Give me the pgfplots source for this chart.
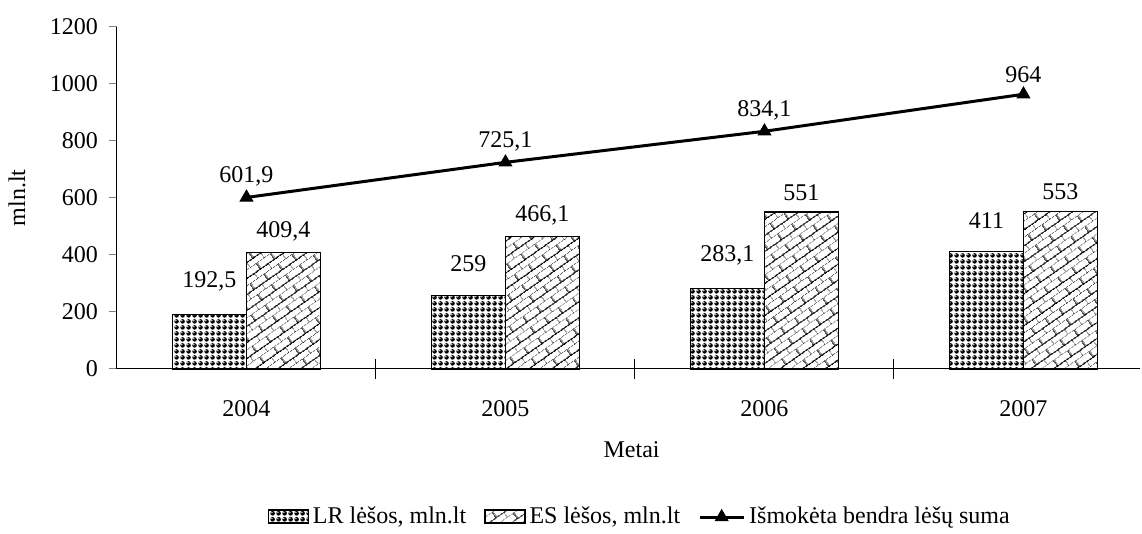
\documentclass[border=0pt]{standalone}
\usepackage{pgfplots}
\pgfplotsset{compat=1.18}
\usepackage{fontspec}
\setmainfont{Liberation Serif}
\usetikzlibrary{patterns,patterns.meta}
\tikzdeclarepattern{
  name=bricks,
  type=uncolored,
  bounding box={(0,0) and (8.5pt,6.6pt)},
  tile size={(8.5pt,6.6pt)},
  tile transformation={rotate=35},
  code={
    \draw[line width=0.6pt] (0,0)--(8.5pt,0) (0,3.3pt)--(8.5pt,3.3pt) (0,0)--(0,3.3pt) (4.25pt,3.3pt)--(4.25pt,6.6pt);
  }
}
\tikzdeclarepattern{
  name=balls,
  type=colored,
  bounding box={(0,0) and (3pt,3pt)},
  tile size={(3pt,3pt)},
  code={
    \fill[black] (1.5pt,1.5pt) circle (1.3pt);
    \fill[white] (1.1pt,1.9pt) circle (0.4pt);
  }
}
\newcommand{\fs}{\fontsize{12}{14}\selectfont}
\pgfplotsset{
  lrleg/.style={legend image code/.code={\draw[##1, pattern=balls] (0pt,-3pt) rectangle (20pt,3.5pt);}},
  esleg/.style={legend image code/.code={\draw[##1, pattern=bricks, pattern color=black] (0pt,-3pt) rectangle (20pt,3.5pt);}},
  lnleg/.style={legend image code/.code={\draw[##1, mark repeat=2, mark phase=2] plot coordinates {(0pt,0pt) (11pt,0pt) (22pt,0pt)};}},
}
\begin{document}
\begin{tikzpicture}
\useasboundingbox (0,0) rectangle (571pt,267pt);
\begin{axis}[
  at={(58.5pt,82.5pt)}, anchor=south west,
  scale only axis, width=511.5pt, height=171pt,
  font=\fs,
  xmin=-0.5, xmax=3.45, ymin=0, ymax=1200,
  axis lines*=left,
  axis line style={line width=0.5pt},
  xtick={0,1,2,3},
  xticklabels={2004,2005,2006,2007},
  x tick style={draw=none},
  xticklabel style={yshift=-8pt},
  extra x ticks={0.5,1.5,2.5},
  extra x tick labels={},
  extra x tick style={tick align=center, major tick length=10pt, x tick style={draw=black, line width=0.5pt}},
  ytick={0,200,400,600,800,1000,1200},
  y tick style={line width=0.5pt},
  tick align=outside, major tick length=4pt,
  /pgf/number format/assume math mode=true,
  /pgf/number format/use comma,
  /pgf/number format/1000 sep={},
  yticklabel style={xshift=-2pt},
  xlabel={Metai},
  xlabel style={at={(axis description cs:0.503,-0.237)}, anchor=center},
  ylabel={mln.lt},
  ylabel style={at={(axis description cs:-0.0978,0.5)}, anchor=center, rotate=0},
  legend style={at={(0.512,-0.433)}, anchor=center, draw=none, legend columns=-1,
    font=\fs, /tikz/every even column/.append style={column sep=7pt}},
  legend cell align=left,
  clip=false,
]
\addplot[ybar, bar width=37pt, bar shift=-18.5pt, draw=black, line width=0.6pt,
  pattern=balls,
  nodes near coords, every node near coord/.append style={font=\fs, yshift=8pt, xshift=-18.5pt},
  lrleg]
  coordinates {(0,192.5) (1,259) (2,283.1) (3,411)};
\addlegendentry{LR lėšos, mln.lt}
\addplot[ybar, bar width=37pt, bar shift=18.5pt, draw=black, line width=0.6pt,
  pattern=bricks, pattern color=black,
  nodes near coords, every node near coord/.append style={font=\fs, yshift=2pt, xshift=18.5pt},
  esleg]
  coordinates {(0,409.4) (1,466.1) (2,551) (3,553)};
\addlegendentry{ES lėšos, mln.lt}
\addplot[black, line width=1.5pt, mark=triangle*, mark size=3.6pt,
  mark options={solid, line width=0.5pt},
  nodes near coords, every node near coord/.append style={font=\fs, yshift=2pt},
  lnleg]
  coordinates {(0,601.9) (1,725.1) (2,834.1) (3,964)};
\addlegendentry{Išmokėta bendra lėšų suma}
\end{axis}
\end{tikzpicture}
\end{document}
